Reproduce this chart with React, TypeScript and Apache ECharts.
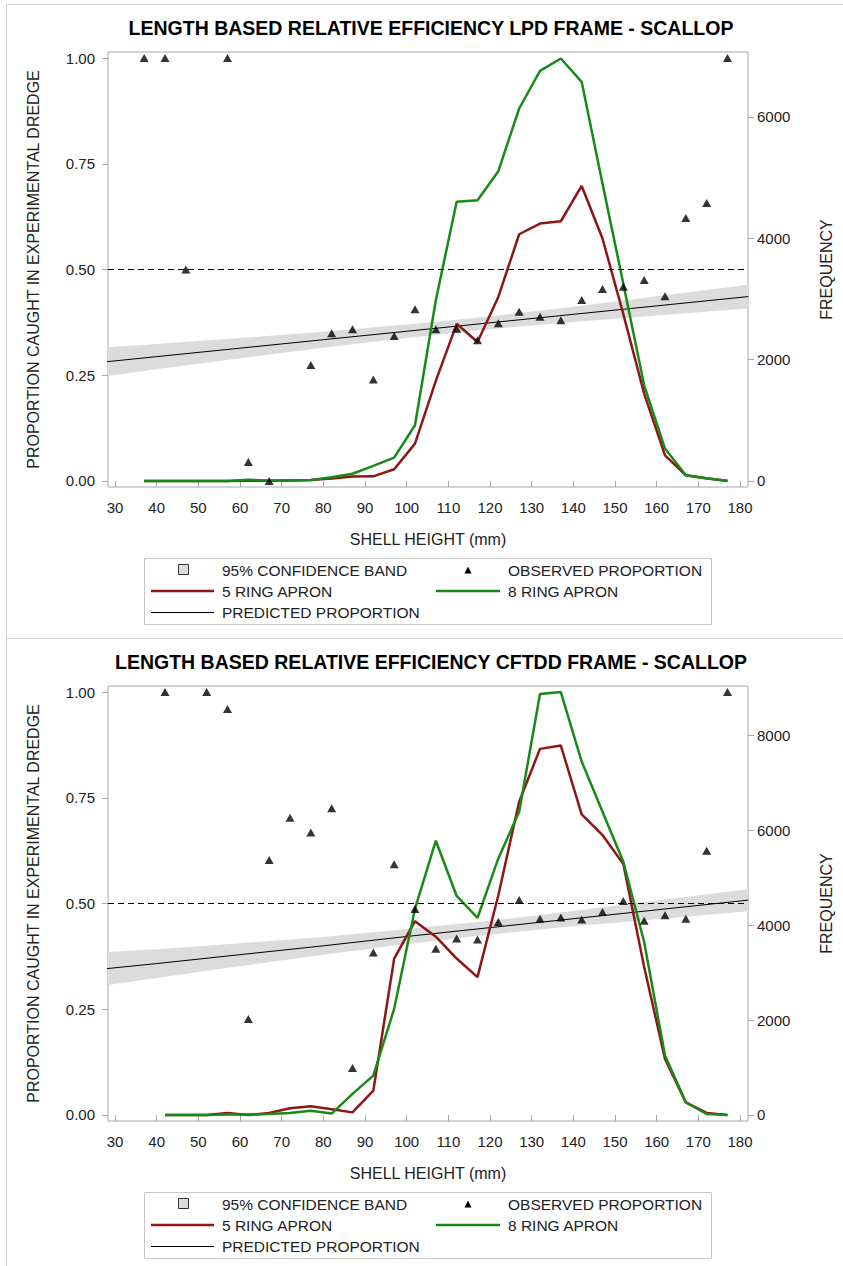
import React, { useEffect, useRef } from "react";
import * as echarts from "echarts";

const FONT = "'Liberation Sans', Arial, Helvetica, sans-serif";

const TITLES = [
  "LENGTH BASED RELATIVE EFFICIENCY LPD FRAME - SCALLOP",
  "LENGTH BASED RELATIVE EFFICIENCY CFTDD FRAME - SCALLOP",
];
const X_NAME = "SHELL HEIGHT (mm)";
const Y_NAME = "PROPORTION CAUGHT IN EXPERIMENTAL DREDGE";
const Y2_NAME = "FREQUENCY";

const X_TICKS = [30, 40, 50, 60, 70, 80, 90, 100, 110, 120, 130, 140, 150, 160, 170, 180];
const PROP_TICKS = [0, 0.25, 0.5, 0.75, 1];
const FREQ_TICKS_LPD = [0, 2000, 4000, 6000];
const FREQ_TICKS_CFTDD = [0, 2000, 4000, 6000, 8000];

// ---------- LPD frame (top) ----------
const LPD_LEN = [37, 42, 47, 52, 57, 62, 67, 72, 77, 82, 87, 92, 97, 102, 107, 112, 117, 122, 127, 132, 137, 142, 147, 152, 157, 162, 167, 172, 177];
const LPD_RING5 = [0, 0, 0, 0, 0, 5, 5, 10, 15, 40, 75, 77, 193, 616, 1650, 2590, 2291, 3033, 4066, 4242, 4280, 4862, 3995, 2750, 1440, 423, 94, 45, 0];
const LPD_RING8 = [0, 0, 0, 0, 0, 20, 5, 10, 15, 60, 120, 250, 385, 918, 2978, 4600, 4627, 5105, 6138, 6758, 6962, 6577, 4900, 3250, 1577, 534, 94, 40, 5];
const LPD_OBS_X = [37, 42, 47, 57, 62, 67, 77, 82, 87, 92, 97, 102, 107, 112, 117, 122, 127, 132, 137, 142, 147, 152, 157, 162, 167, 172, 177];
const LPD_OBS_Y = [1.0, 1.0, 0.5, 1.0, 0.045, 0.0, 0.274, 0.349, 0.359, 0.24, 0.343, 0.406, 0.359, 0.36, 0.333, 0.373, 0.4, 0.388, 0.38, 0.428, 0.454, 0.459, 0.475, 0.437, 0.622, 0.657, 1.0];
const LPD_BAND_X = [28, 40, 60, 80, 100, 120, 140, 160, 182];
const LPD_PRED = [0.282, 0.294, 0.314, 0.334, 0.354, 0.374, 0.394, 0.414, 0.436];
const LPD_LOW = [0.248, 0.264, 0.29, 0.315, 0.338, 0.359, 0.376, 0.391, 0.408];
const LPD_HIGH = [0.316, 0.324, 0.338, 0.353, 0.37, 0.389, 0.412, 0.437, 0.464];

// ---------- CFTDD frame (bottom) ----------
const CF_LEN = [42, 47, 52, 57, 62, 67, 72, 77, 82, 87, 92, 97, 102, 107, 112, 117, 122, 127, 132, 137, 142, 147, 152, 157, 162, 167, 172, 177];
const CF_RING5 = [0, 0, 0, 40, 0, 40, 140, 182, 120, 55, 514, 3298, 4087, 3760, 3300, 2909, 4636, 6609, 7723, 7793, 6342, 5905, 5292, 3121, 1184, 266, 42, 0];
const CF_RING8 = [0, 0, 0, 10, 10, 20, 40, 90, 30, 444, 831, 2241, 4350, 5785, 4620, 4157, 5412, 6398, 8879, 8922, 7455, 6398, 5340, 3649, 1254, 266, 20, 0];
const CF_OBS_X = [42, 52, 57, 62, 67, 72, 77, 82, 87, 92, 97, 102, 107, 112, 117, 122, 127, 132, 137, 142, 147, 152, 157, 162, 167, 172, 177];
const CF_OBS_Y = [1.0, 1.0, 0.96, 0.227, 0.603, 0.703, 0.668, 0.725, 0.111, 0.384, 0.593, 0.487, 0.393, 0.417, 0.415, 0.456, 0.508, 0.464, 0.467, 0.462, 0.48, 0.506, 0.459, 0.472, 0.464, 0.625, 1.0];
const CF_BAND_X = [28, 40, 60, 80, 100, 120, 140, 160, 182];
const CF_PRED = [0.346, 0.358, 0.379, 0.4, 0.422, 0.443, 0.464, 0.485, 0.508];
const CF_LOW = [0.307, 0.324, 0.352, 0.379, 0.404, 0.427, 0.446, 0.463, 0.482];
const CF_HIGH = [0.385, 0.392, 0.406, 0.421, 0.44, 0.459, 0.482, 0.507, 0.534];

const RED = "#8e1616";
const GREEN = "#178a17";
const BAND = "#dcdcdc";
const FRAME = "#a8a8a8";
const TEXT = "#222";

type Panel = {
  title: string;
  len: number[];
  ring5: number[];
  ring8: number[];
  obsX: number[];
  obsY: number[];
  bandX: number[];
  pred: number[];
  low: number[];
  high: number[];
  freqTicks: number[];
  freqMin: number;
  freqMax: number;
};

const PANELS: Panel[] = [
  { title: TITLES[0], len: LPD_LEN, ring5: LPD_RING5, ring8: LPD_RING8, obsX: LPD_OBS_X, obsY: LPD_OBS_Y, bandX: LPD_BAND_X, pred: LPD_PRED, low: LPD_LOW, high: LPD_HIGH, freqTicks: FREQ_TICKS_LPD, freqMin: -99, freqMax: 7069 },
  { title: TITLES[1], len: CF_LEN, ring5: CF_RING5, ring8: CF_RING8, obsX: CF_OBS_X, obsY: CF_OBS_Y, bandX: CF_BAND_X, pred: CF_PRED, low: CF_LOW, high: CF_HIGH, freqTicks: FREQ_TICKS_CFTDD, freqMin: -127, freqMax: 9049 },
];

const OFFSET = 634;

function buildOption() {
  const grid: any[] = [];
  const xAxis: any[] = [];
  const yAxis: any[] = [];
  const series: any[] = [];
  const title: any[] = [];
  const graphic: any[] = [];

  const labelStyle = { fontFamily: FONT, fontSize: 15, color: TEXT };
  const nameStyle = { fontFamily: FONT, fontSize: 16, color: TEXT };

  PANELS.forEach((p, i) => {
    const oy = i * OFFSET;
    title.push({
      text: p.title,
      left: 426,
      textAlign: "center",
      top: 13 + oy,
      textStyle: { fontFamily: FONT, fontSize: 19.5, fontWeight: "bold", color: "#000" },
    });
    grid.push({
      left: 108,
      top: 52 + oy,
      width: 640,
      height: 435,
      show: true,
      borderColor: FRAME,
      borderWidth: 1,
      backgroundColor: "transparent",
    });
    xAxis.push({
      type: "value",
      gridIndex: i,
      min: 28.32,
      max: 181.92,
      axisLine: { show: false },
      axisTick: { show: true, customValues: X_TICKS, length: 6, lineStyle: { color: FRAME } },
      axisLabel: { customValues: X_TICKS, margin: 13, formatter: (v: number) => String(v), ...labelStyle },
      splitLine: { show: false },
      name: X_NAME,
      nameLocation: "middle",
      nameGap: 44,
      nameTextStyle: nameStyle,
    });
    yAxis.push({
      type: "value",
      gridIndex: i,
      position: "left",
      min: -0.0142,
      max: 1.0142,
      axisLine: { show: false },
      axisTick: { show: true, customValues: PROP_TICKS, length: 6, lineStyle: { color: FRAME } },
      axisLabel: { customValues: PROP_TICKS, margin: 13, formatter: (v: number) => v.toFixed(2), ...labelStyle },
      splitLine: { show: false },
      name: Y_NAME,
      nameLocation: "middle",
      nameRotate: 90,
      nameGap: 67,
      nameTextStyle: nameStyle,
    });
    yAxis.push({
      type: "value",
      gridIndex: i,
      position: "right",
      min: p.freqMin,
      max: p.freqMax,
      axisLine: { show: false },
      axisTick: { show: true, customValues: p.freqTicks, length: 6, lineStyle: { color: FRAME } },
      axisLabel: { customValues: p.freqTicks, margin: 9, formatter: (v: number) => String(Math.round(v)), ...labelStyle },
      splitLine: { show: false },
      name: Y2_NAME,
      nameLocation: "middle",
      nameRotate: 90,
      nameGap: 70,
      nameTextStyle: nameStyle,
    });
    const yProp = i * 2;
    const yFreq = i * 2 + 1;

    series.push({
      type: "custom",
      name: "95% CONFIDENCE BAND",
      xAxisIndex: i,
      yAxisIndex: yProp,
      clip: true,
      silent: true,
      z: 1,
      data: p.bandX.map((x, k) => [x, p.low[k], p.high[k]]),
      encode: { x: 0, y: [1, 2] },
      renderItem: (params: any, api: any) => {
        if (params.dataIndex !== 0) return { type: "group", children: [] };
        const top = p.bandX.map((x, k) => api.coord([x, p.high[k]]));
        const bot = p.bandX.map((x, k) => api.coord([x, p.low[k]])).reverse();
        return { type: "polygon", shape: { points: top.concat(bot) }, style: { fill: BAND } };
      },
    });
    series.push({
      type: "line",
      name: "PREDICTED PROPORTION",
      xAxisIndex: i,
      yAxisIndex: yProp,
      data: p.bandX.map((x, k) => [x, p.pred[k]]),
      symbol: "none",
      lineStyle: { color: "#000", width: 1 },
      z: 2,
      markLine: {
        silent: true,
        symbol: ["none", "none"],
        label: { show: false },
        lineStyle: { color: "#000", width: 1, type: [6, 4] },
        data: [{ yAxis: 0.5 }],
      },
    });
    series.push({
      type: "line",
      name: "5 RING APRON",
      xAxisIndex: i,
      yAxisIndex: yFreq,
      data: p.len.map((x, k) => [x, p.ring5[k]]),
      symbol: "none",
      lineStyle: { color: RED, width: 2.5 },
      z: 3,
    });
    series.push({
      type: "line",
      name: "8 RING APRON",
      xAxisIndex: i,
      yAxisIndex: yFreq,
      data: p.len.map((x, k) => [x, p.ring8[k]]),
      symbol: "none",
      lineStyle: { color: GREEN, width: 2.5 },
      z: 4,
    });
    series.push({
      type: "scatter",
      name: "OBSERVED PROPORTION",
      xAxisIndex: i,
      yAxisIndex: yProp,
      data: p.obsX.map((x, k) => [x, p.obsY[k]]),
      symbol: "triangle",
      symbolSize: [9, 8],
      itemStyle: { color: "#000" },
      z: 5,
    });

    // legend box
    const ly = 558 + oy;
    const txt = (text: string, x: number, y: number) => ({
      type: "text",
      x,
      y,
      style: { text, fontFamily: FONT, fontSize: 15.5, fill: TEXT, verticalAlign: "middle", align: "left" },
    });
    graphic.push(
      { type: "rect", shape: { x: 144.5, y: ly + 0.5, width: 567, height: 66 }, style: { fill: "#fff", stroke: "#c8c8c8", lineWidth: 1 } },
      { type: "rect", shape: { x: 178.5, y: ly + 6.5, width: 10, height: 10 }, style: { fill: BAND, stroke: "#333", lineWidth: 1 } },
      txt("95% CONFIDENCE BAND", 222, ly + 12),
      { type: "polygon", shape: { points: [[464.5, ly + 15.5], [471.5, ly + 15.5], [468, ly + 8.5]] }, style: { fill: "#000" } },
      txt("OBSERVED PROPORTION", 508, ly + 12),
      { type: "line", shape: { x1: 151, y1: ly + 33, x2: 214, y2: ly + 33 }, style: { stroke: RED, lineWidth: 2.5 } },
      txt("5 RING APRON", 222, ly + 33),
      { type: "line", shape: { x1: 436, y1: ly + 33, x2: 500, y2: ly + 33 }, style: { stroke: GREEN, lineWidth: 2.5 } },
      txt("8 RING APRON", 508, ly + 33),
      { type: "line", shape: { x1: 151, y1: ly + 54.5, x2: 214, y2: ly + 54.5 }, style: { stroke: "#000", lineWidth: 1 } },
      txt("PREDICTED PROPORTION", 222, ly + 54)
    );
  });

  // page frame lines
  graphic.push(
    { type: "line", shape: { x1: 6, y1: 4.5, x2: 843, y2: 4.5 }, style: { stroke: "#d4d4d4", lineWidth: 1 } },
    { type: "line", shape: { x1: 6.5, y1: 4, x2: 6.5, y2: 1266 }, style: { stroke: "#d4d4d4", lineWidth: 1 } },
    { type: "line", shape: { x1: 6, y1: 638.5, x2: 843, y2: 638.5 }, style: { stroke: "#d4d4d4", lineWidth: 1 } }
  );

  return {
    animation: false,
    backgroundColor: "#fff",
    title,
    grid,
    xAxis,
    yAxis,
    series,
    graphic,
  };
}

export default function App() {
  const ref = useRef<HTMLDivElement>(null);
  useEffect(() => {
    if (!ref.current) return;
    const chart = echarts.init(ref.current, undefined, { renderer: "svg" });
    chart.setOption(buildOption() as any);
    return () => chart.dispose();
  }, []);
  return (
    <div
      ref={ref}
      style={{ position: "absolute", left: 0, top: 0, width: 843, height: 1266, background: "#fff" }}
    />
  );
}
